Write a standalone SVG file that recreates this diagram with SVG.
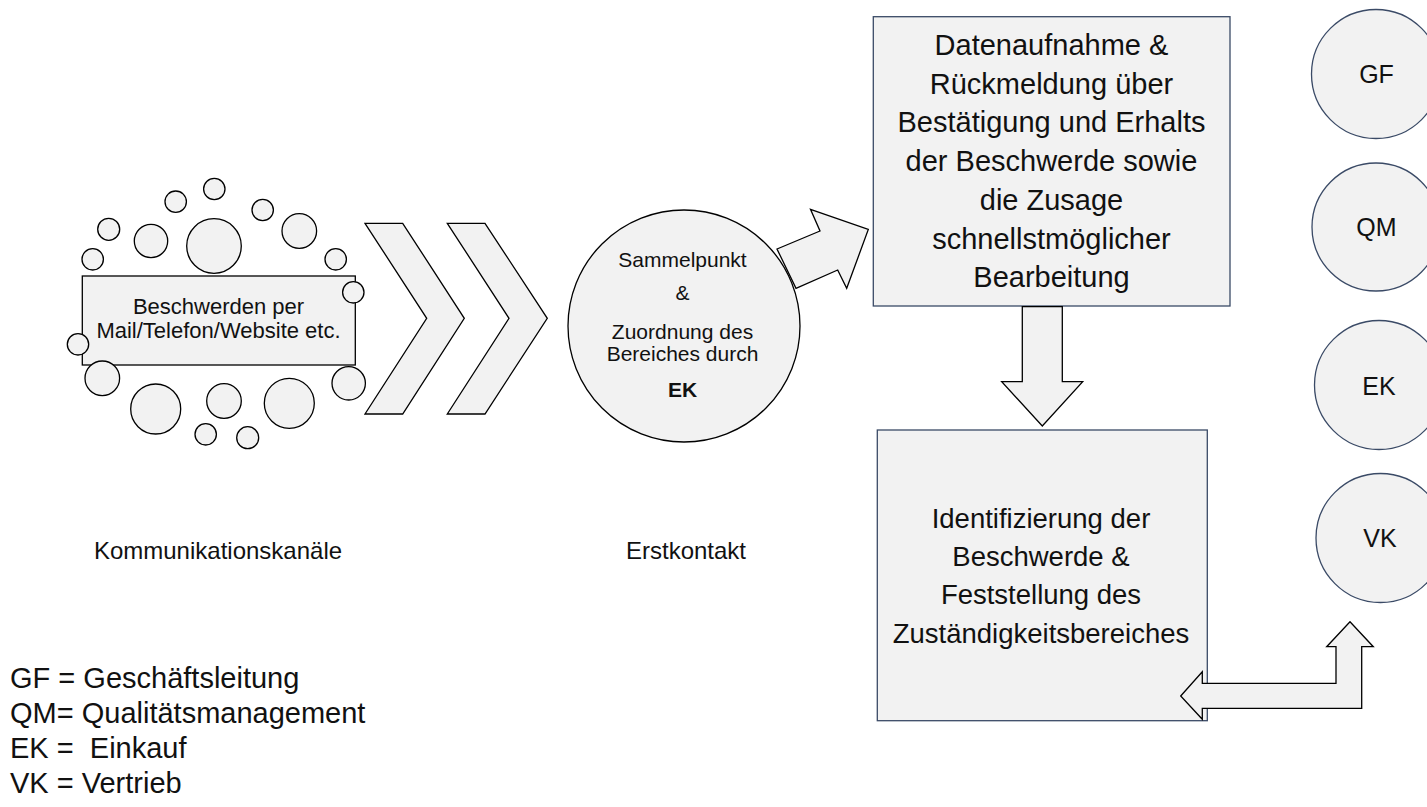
<svg xmlns="http://www.w3.org/2000/svg" width="1427" height="807" viewBox="0 0 1427 807">
<style>
.blk{fill:#F2F2F2;stroke:#000;stroke-width:1.3}
.blu{fill:#F2F2F2;stroke:#3A4A66;stroke-width:1.3}
text{font-family:"Liberation Sans",Arial,sans-serif;fill:#111;text-anchor:middle}
.lg{text-anchor:start;font-size:29px;white-space:pre}
</style>
<rect width="1427" height="807" fill="#fff"/>
<g id="channels">
<rect class="blk" x="82.3" y="276" width="273" height="89"/>
<circle class="blk" cx="214.3" cy="189" r="10.7"/>
<circle class="blk" cx="175.7" cy="201.7" r="10.7"/>
<circle class="blk" cx="262.7" cy="210" r="10.7"/>
<circle class="blk" cx="108.7" cy="229.3" r="11"/>
<circle class="blk" cx="151" cy="241" r="16.7"/>
<circle class="blk" cx="214" cy="246" r="27.3"/>
<circle class="blk" cx="299.3" cy="231" r="17.3"/>
<circle class="blk" cx="92.7" cy="259.3" r="10.7"/>
<circle class="blk" cx="335.7" cy="259.3" r="10.7"/>
<circle class="blk" cx="353.3" cy="292.3" r="10.7"/>
<circle class="blk" cx="78" cy="344.3" r="10.7"/>
<circle class="blk" cx="102.3" cy="378.3" r="17.3"/>
<circle class="blk" cx="155.7" cy="409" r="25"/>
<circle class="blk" cx="224" cy="401" r="17.3"/>
<circle class="blk" cx="289.3" cy="403.3" r="25"/>
<circle class="blk" cx="348.7" cy="383.3" r="16.7"/>
<circle class="blk" cx="205.7" cy="434.3" r="10.7"/>
<circle class="blk" cx="247.7" cy="437.7" r="11"/>
<text x="218.5" y="314" font-size="22">Beschwerden per</text>
<text x="218.5" y="338" font-size="22">Mail/Telefon/Website etc.</text>
</g>
<g id="label-kanaele"><text x="218" y="559" font-size="24">Kommunikationskanäle</text></g>
<g id="label-erstkontakt"><text x="686" y="559" font-size="24">Erstkontakt</text></g>
<g id="sammelpunkt">
<circle class="blk" cx="684" cy="326" r="116"/>
<text x="682.5" y="267" font-size="21">Sammelpunkt</text>
<text x="682.5" y="300" font-size="21">&amp;</text>
<text x="682.5" y="339" font-size="21">Zuordnung des</text>
<text x="682.5" y="361" font-size="21">Bereiches durch</text>
<text x="682.5" y="397" font-size="21" font-weight="bold">EK</text>
</g>
<g id="datenaufnahme">
<rect class="blu" x="873.3" y="16.7" width="356.7" height="289.3"/>
<text x="1051.5" y="55" font-size="29">Datenaufnahme &amp;</text>
<text x="1051.5" y="93.7" font-size="29">Rückmeldung über</text>
<text x="1051.5" y="132.4" font-size="29">Bestätigung und Erhalts</text>
<text x="1051.5" y="171.1" font-size="29">der Beschwerde sowie</text>
<text x="1051.5" y="209.8" font-size="29">die Zusage</text>
<text x="1051.5" y="248.5" font-size="29">schnellstmöglicher</text>
<text x="1051.5" y="287.2" font-size="29">Bearbeitung</text>
</g>
<g id="identifizierung">
<rect class="blu" x="877.3" y="430" width="330" height="290.7"/>
<text x="1041" y="527.7" font-size="27.5">Identifizierung der</text>
<text x="1041" y="566" font-size="27.5">Beschwerde &amp;</text>
<text x="1041" y="604.3" font-size="27.5">Feststellung des</text>
<text x="1041" y="642.7" font-size="27.5">Zuständigkeitsbereiches</text>
</g>
<g id="gf"><circle class="blu" cx="1376" cy="74" r="64.5"/><text x="1376.5" y="83" font-size="25">GF</text></g>
<g id="qm"><circle class="blu" cx="1376" cy="227" r="64"/><text x="1376.5" y="236" font-size="25">QM</text></g>
<g id="ek"><circle class="blu" cx="1379" cy="385" r="64.5"/><text x="1379" y="395" font-size="25">EK</text></g>
<g id="vk"><circle class="blu" cx="1380.5" cy="538" r="64.5"/><text x="1380" y="547" font-size="25">VK</text></g>
<g id="legend">
<text class="lg" x="10" y="688">GF = Geschäftsleitung</text>
<text class="lg" x="10" y="723">QM= Qualitätsmanagement</text>
<text class="lg" x="10" y="758" xml:space="preserve">EK =  Einkauf</text>
<text class="lg" x="10" y="793">VK = Vertrieb</text>
</g>
<g id="connectors">
<polygon class="blk" points="365,223.3 402.7,223.3 464.3,318.3 402.7,414 365,414 426.7,318.3"/>
<polygon class="blk" points="447.3,223.3 485,223.3 547.3,318.3 485,414 447.3,414 509,318.3"/>
<polygon class="blk" points="777,249 820,231 810.5,209.3 868.3,229.5 846.7,288.3 837.7,270 796,288.3"/>
<polygon class="blk" points="1022.3,306.6 1062.3,306.6 1062.3,381.7 1082.7,381.7 1042.3,426 1001.7,381.7 1022.3,381.7"/>
<polygon class="blk" points="1180.7,696 1202.3,671.7 1202.3,683.3 1336,683.3 1336,646.7 1326.7,646.7 1350,621.7 1373.3,646.7 1361.7,646.7 1361.7,708.3 1202.3,708.3 1202.3,719.3"/>
</g>
</svg>
